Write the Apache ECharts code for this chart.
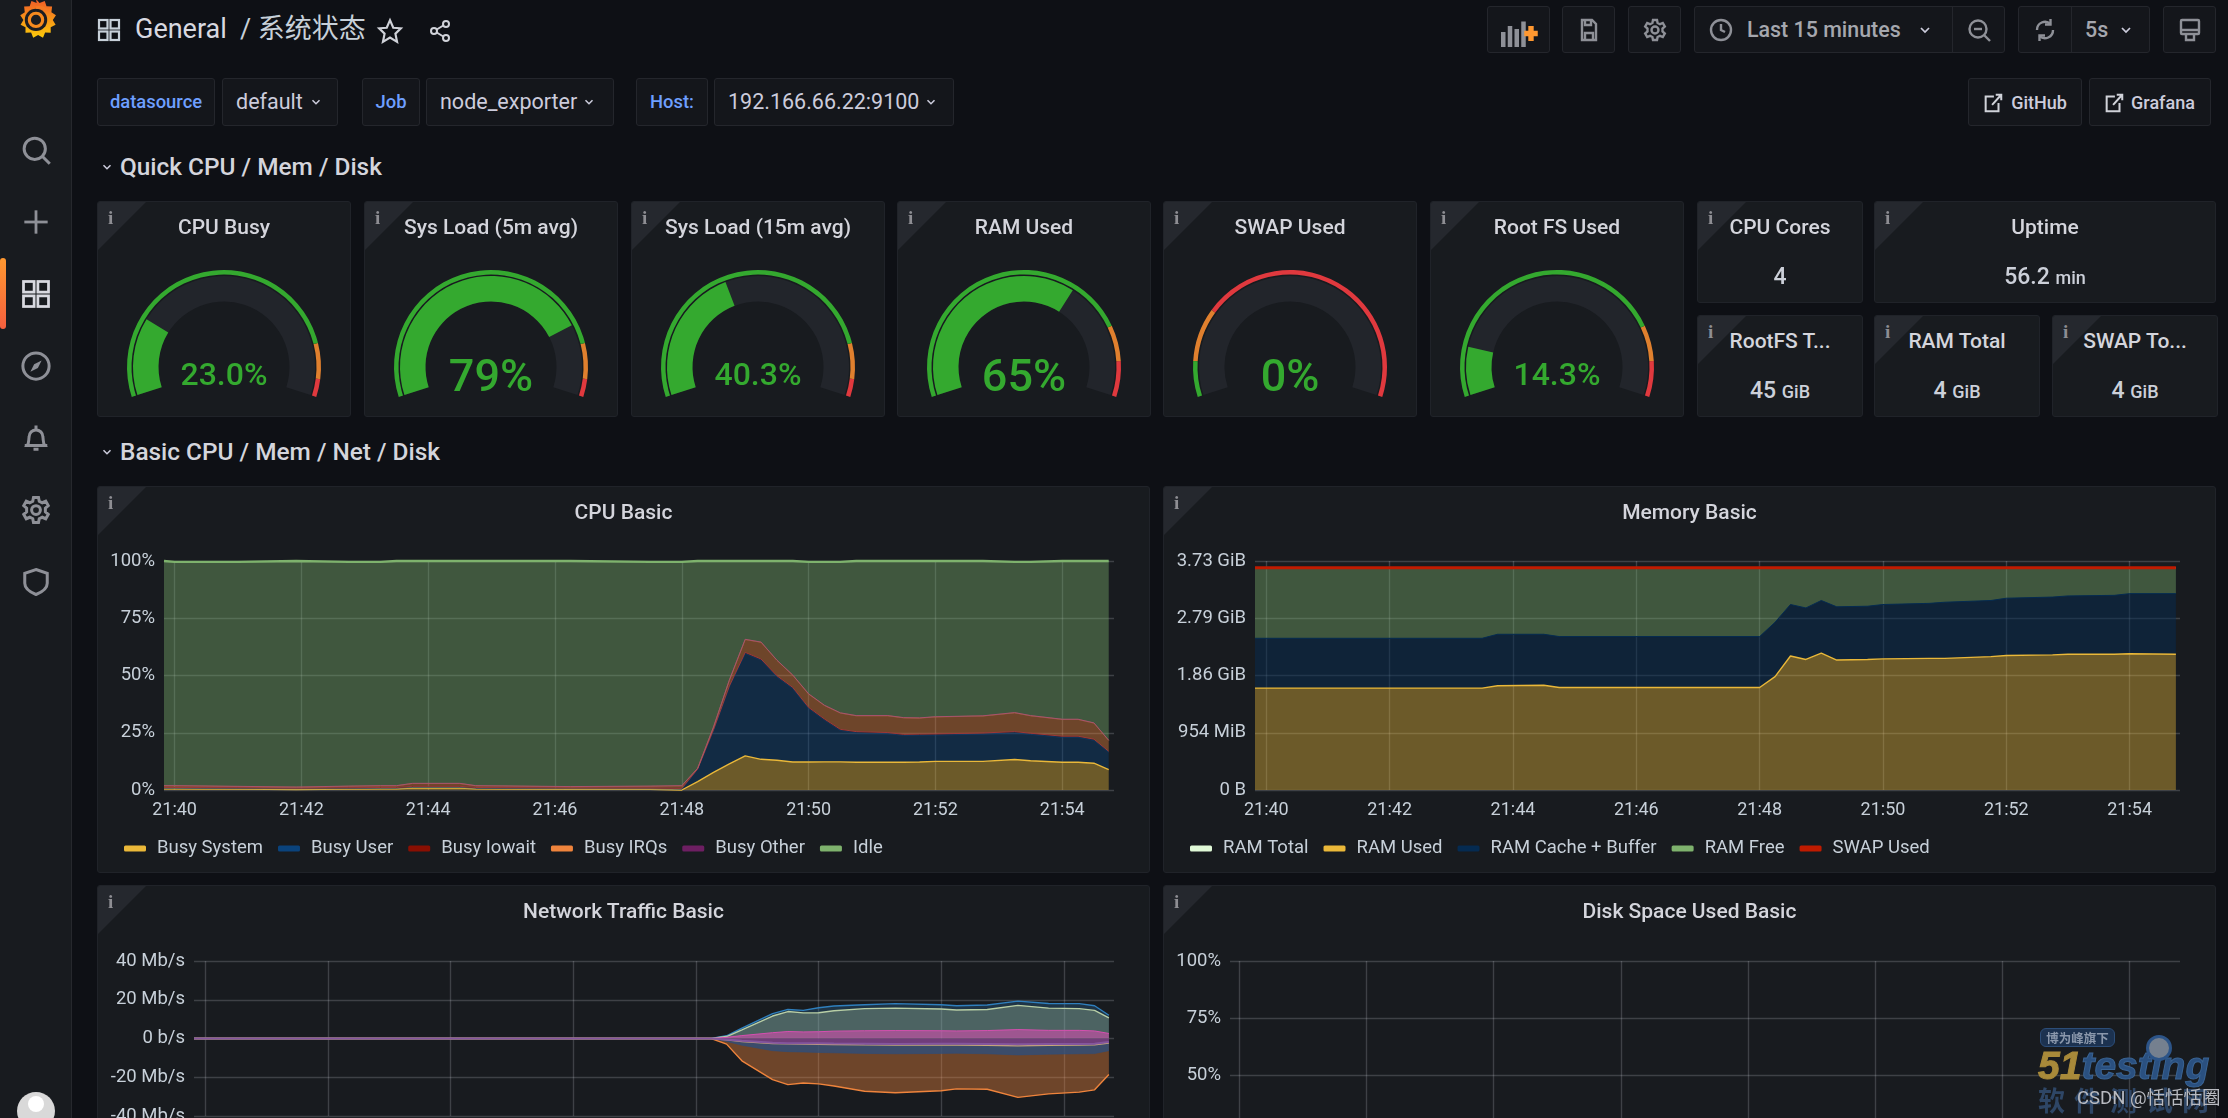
<!DOCTYPE html>
<html>
<head>
<meta charset="utf-8">
<title>General / 系统状态</title>
<script src="https://cdn.jsdelivr.net/npm/echarts@6/dist/echarts.min.js"></script>
<style>
html, body { margin: 0; padding: 0; width: 2228px; height: 1118px; overflow: hidden; background: #0e1015; font-family: Roboto, sans-serif; color: #ccccdc; }
.abs { position: absolute; }
.side { left: 0; top: 0; width: 72px; height: 1118px; background: #181b1f; border-right: 1px solid #26282d; box-sizing: border-box; }
.box { position: absolute; box-sizing: border-box; background: #14161b; border: 1px solid #24262c; border-radius: 3px; white-space: nowrap; }
.panel { position: absolute; box-sizing: border-box; background: #181b1f; border: 1px solid #202329; border-radius: 3px; overflow: hidden; }
.corner { position: absolute; left: 0; top: 0; width: 0; height: 0; border-top: 48px solid #25282e; border-right: 48px solid transparent; }
.info { position: absolute; left: 10px; top: 5px; font: bold 19px "Liberation Serif", serif; color: #8e8e93; }
.ptitle { position: absolute; left: 0; right: 0; top: 12px; text-align: center; font-size: 21px; font-weight: 500; line-height: 26px; color: #d4d5dc; white-space: nowrap; }
.stat { position: absolute; left: 0; right: 0; text-align: center; font-size: 23px; font-weight: 500; color: #ccd0d9; white-space: nowrap; }
.stat small { font-size: 18px; }
.chart { position: absolute; left: -1px; top: -1px; }
.section { position: absolute; left: 120px; font-size: 24.4px; font-weight: 500; color: #d4d5dc; line-height: 30px; white-space: nowrap; }
.var { font-size: 21.5px; line-height: 46px; text-align: center; color: #ccccdc; }
.val { text-align: left; padding-left: 13px; }
.lbl { font-size: 18.4px; font-weight: 500; color: #6e9fff; }
svg { position: absolute; overflow: visible; }
</style>
</head>
<body>

<div id="page"></div>

<script>
// cpu basic, percent per state, stacked
var cpuTimes = ['21:39:50','21:40:00','21:41:00','21:41:55','21:42:45','21:43:15','21:43:30','21:43:45','21:44:30','21:44:45','21:46:15','21:47:30','21:48:00','21:48:15','21:48:30','21:48:45','21:49:00','21:49:15','21:49:30','21:49:45','21:50:00','21:50:15','21:50:30','21:50:45','21:51:15','21:51:30','21:51:45','21:52:00','21:52:45','21:53:15','21:53:30','21:54:00','21:54:15','21:54:30','21:54:44'];
var busySystem = [.5,.5,.4,.2,.4,.5,.5,.9,.9,.5,.3,.3,0,3.7,7.7,11.4,14.9,13.4,13,12.2,12.2,12.3,12.3,12.1,12.1,12.1,12.2,12.5,12.5,13.3,12.8,12.1,12.1,11.7,8.9];
var busyUser = [.2,.2,.2,.3,.2,.2,.2,.2,.2,.2,.2,.2,.3,5.3,18.3,33.6,44.7,43.3,36.4,32.1,23.4,18.2,13.7,12.9,12.5,11.7,11.7,11.5,11.9,11.7,11.5,10.9,10.9,10,7.6];
var busyIowait = [.4,.4,.4,.3,.4,.4,.4,.5,.5,.4,.4,.4,.4,.2,.3,.4,.5,.5,.5,.5,.5,.5,.5,.5,.5,.5,.5,.5,.5,.5,.5,.5,.5,.5,.4];
var busyIrqs = [.7,.7,.5,.4,.6,.7,.7,1.2,1.2,.7,.5,.7,1.1,.2,1.1,2.5,5.6,7.3,6.7,5.3,5.8,5.9,7.1,6.9,7.3,7.2,7,7.4,7.4,8.2,7.6,7.3,7.3,7,4.7];
var busyOther = [.1,.1,.1,.1,.1,.1,.1,.1,.1,.1,.1,.1,.1,.1,.1,.1,.1,.1,.1,.1,.1,.1,.1,.1,.1,.1,.1,.1,.1,.1,.1,.1,.1,.1,.1];
var idle = [98.1,97.7,98,98.7,97.9,97.7,98.1,97.1,97.1,98.1,98.5,97.9,97.7,90.5,72.5,52,34.2,35.4,43.3,49.8,57.6,62.6,65.9,67.5,67.5,68.4,68.5,68,67.6,65.8,67.1,69.1,69.1,70.7,78.3];

// memory basic, in GB (1e9 bytes)
var memTimes = ['21:39:49','21:43:30','21:43:45','21:44:30','21:44:45','21:48:00','21:48:15','21:48:30','21:48:45','21:49:00','21:49:15','21:49:45','21:50:00','21:50:45','21:51:00','21:51:45','21:52:00','21:52:45','21:53:00','21:53:45','21:54:00','21:54:45'];
var ramTotal = [3.88,3.88,3.88,3.88,3.88,3.88,3.88,3.88,3.88,3.88,3.88,3.88,3.88,3.88,3.88,3.88,3.88,3.88,3.88,3.88,3.88,3.88];
var ramUsed = [1.78,1.78,1.82,1.83,1.79,1.79,1.98,2.34,2.28,2.39,2.27,2.28,2.29,2.3,2.3,2.33,2.35,2.36,2.37,2.37,2.38,2.37];
var ramCache = [.87,.87,.9,.89,.89,.89,.95,.9,.9,.92,.93,.93,.95,.96,.98,.98,1,1.01,1.02,1.03,1.05,1.06];
var ramFree = [1.23,1.23,1.16,1.16,1.2,1.2,.95,.64,.7,.57,.68,.67,.64,.62,.6,.57,.53,.51,.49,.48,.45,.45];
var swapUsed = [0,0,0,0,0,0,0,0,0,0,0,0,0,0,0,0,0,0,0,0,0,0];
var memTickLabels = ['0 B','954 MiB','1.86 GiB','2.79 GiB','3.73 GiB'];

// network traffic, Mb/s, overlaid not stacked
var netTimes = ['21:39:49','21:48:15','21:48:30','21:48:45','21:49:15','21:49:30','21:49:45','21:50:00','21:50:15','21:50:45','21:51:15','21:52:00','21:52:15','21:52:45','21:53:15','21:53:45','21:54:15','21:54:30','21:54:44'];
var recvEth = [0,0,1.4,5.4,12.8,15,14.5,15.9,16.8,17.4,18,17.4,16.9,17.3,19.3,18.1,18,16.9,12];
var recvLo = [0,0,1,4.5,11.6,13.9,13.2,13.3,14.3,15.4,15.7,15.2,14.7,15,17.1,15.7,15.4,14.5,10.6];
var recvDocker = [0,0,.6,1.5,3,3.6,3.4,3.5,3.8,4,4.1,4,3.9,4.1,4.6,4.2,4.2,3.9,2.6];
var transDocker = [0,0,-.5,-1.2,-2.2,-2.4,-2.4,-2.5,-2.6,-2.7,-2.8,-2.7,-2.7,-2.8,-3,-2.9,-2.9,-2.7,-1.8];
var transLo = [0,0,-.7,-1.6,-2.6,-2.8,-2.9,-3,-3.1,-3.3,-3.4,-3.4,-3.4,-3.5,-3.8,-3.5,-3.4,-3.3,-2.4];
var transVeth = [0,0,-1.5,-3.5,-6.3,-6.8,-7,-7.2,-7.4,-7.7,-7.9,-7.7,-7.6,-7.9,-8.5,-8.1,-7.9,-7.8,-6.3];
var transEth = [0,0,-2.9,-11.5,-21.2,-23.8,-23,-23.4,-24.5,-27.2,-28,-27,-26,-26.2,-30.4,-28.6,-27.7,-26.5,-18.6];

var timeTicks = ['21:40','21:42','21:44','21:46','21:48','21:50','21:52','21:54'];
var diskTimes = [];
var diskUsed = [];

// gauges: name, value, decimals text, thresholds
var gaugeNames = ['CPU Busy','Sys Load (5m avg)','Sys Load (15m avg)','RAM Used','SWAP Used','Root FS Used'];
var gaugeValues = [23.0,79,40.3,65,0,14.3];
var gaugeLabels = ['23.0%','79%','40.3%','65%','0%','14.3%'];
var gaugeOrange = [85,85,85,80,10,80];
var gaugeRed = [95,95,95,90,25,90];

var GREEN = '#34a92f', AXIS = '#c7d0d9';

function toMs(t) {
    var p = t.split(':');
    return (p[0] * 3600 + p[1] * 60 + (p[2] ? +p[2] : 0)) * 1000;
}
function pairs(times, vals) {
    return times.map(function (t, i) { return [toMs(t), vals[i]]; });
}
function fmtTime(v) {
    var s = Math.round(v / 1000), h = Math.floor(s / 3600), m = Math.floor(s / 60) % 60;
    return h + ':' + (m < 10 ? '0' : '') + m;
}
// the time axis also ticks at its own min and max, those get no label
function tickLabel(v) {
    return timeTicks.indexOf(fmtTime(v)) >= 0 && v % 60000 === 0 ? fmtTime(v) : '';
}

var page = document.getElementById('page');
function add(cls, css, html) {
    var d = document.createElement('div');
    d.className = cls;
    d.style.cssText = css;
    if (html) d.innerHTML = html;
    page.appendChild(d);
    return d;
}
function panel(x, y, w, h, title) {
    return add('panel', 'left:' + x + 'px;top:' + y + 'px;width:' + w + 'px;height:' + h + 'px;',
        '<div class="corner"></div><div class="info">i</div><div class="ptitle">' + title + '</div>');
}
function box(x, w, y, h, cls, html) {
    return add('box ' + (cls || ''), 'left:' + x + 'px;top:' + y + 'px;width:' + w + 'px;height:' + h + 'px;', html);
}

var ICON = 'fill="none" stroke="#8e9097" stroke-width="2.4"';
function svg(x, y, s, body) {
    var d = document.createElementNS('http://www.w3.org/2000/svg', 'svg');
    d.setAttribute('width', s); d.setAttribute('height', s);
    d.setAttribute('viewBox', '0 0 24 24');
    d.style.left = x + 'px'; d.style.top = y + 'px';
    d.innerHTML = body;
    page.appendChild(d);
}
var gridIcon = function (c) {
    return '<g fill="none" stroke="' + c + '" stroke-width="2.2"><rect x="2" y="2" width="8.5" height="8.5"/><rect x="13.5" y="2" width="8.5" height="8.5"/><rect x="2" y="13.5" width="8.5" height="8.5"/><rect x="13.5" y="13.5" width="8.5" height="8.5"/></g>';
};
var chev = '<polyline points="6,9 12,15 18,9" fill="none" stroke="#ccccdc" stroke-width="2.6"/>';
var clockIcon = '<g ' + ICON + '><circle cx="12" cy="12" r="10"/><polyline points="12,6 12,12 16,14"/></g>';
var extIcon = '<g fill="none" stroke="#d0d2d9" stroke-width="2.2"><path d="M13 5H4v16h14v-9"/><path d="M11 14L21 3M15 3h6v6"/></g>';

function buildChrome() {
    add('abs side', '');
    add('abs', 'left:0;top:258px;width:6px;height:71px;border-radius:3px;background:linear-gradient(#ff9830,#f55f3e);');

    // sidebar icons
    svg(15, -2, 42, '<defs><linearGradient id="lg" x1="0" y1="1" x2="0" y2="0"><stop offset="0" stop-color="#fbca0a"/><stop offset="1" stop-color="#f05a28"/></linearGradient></defs>' +
        '<path d="M12 0.5l2 2.4 3-1.2 1 3 3.2.2-.4 3.2 2.6 1.8-1.8 2.6 1.6 2.8-2.8 1.4 0 3.2-3.2-.2-1.2 3-2.8-1.6-2.8 1.6-1.2-3-3.2.2 0-3.2-2.8-1.4 1.6-2.8-1.8-2.6 2.6-1.8-.4-3.2 3.2-.2 1-3 3 1.2z" fill="url(#lg)"/>' +
        '<circle cx="12" cy="12.5" r="6.4" fill="#1b1d22"/><path d="M18.5 7a8 8 0 0 0-6.5-1.5" fill="none" stroke="#f47a25" stroke-width="1.6"/>' +
        '<circle cx="12" cy="12.5" r="3.8" fill="none" stroke="#f68a1f" stroke-width="1.8"/><circle cx="12" cy="12.5" r="1.6" fill="#1b1d22"/>');
    svg(21, 135, 30, '<g ' + ICON + '><circle cx="11" cy="11" r="8.5"/><line x1="17" y1="17" x2="23" y2="23"/></g>');
    svg(22, 208, 28, '<g ' + ICON + '><line x1="12" y1="2" x2="12" y2="22"/><line x1="2" y1="12" x2="22" y2="12"/></g>');
    svg(21, 279, 30, gridIcon('#d8d9e0'));
    svg(21, 351, 30, '<g ' + ICON + '><circle cx="12" cy="12" r="10.5"/></g><path d="M16.5 7.5L13.5 13.5 7.5 16.5 10.5 10.5z" fill="#8e9097"/>');
    svg(21, 423, 30, '<g ' + ICON + '><path d="M5 18c1.5-2 1-4 1.5-7a5.5 5.5 0 0 1 11 0c.5 3 0 5 1.5 7z"/><path d="M3 18h18M12 2v3M10 21h4"/></g>');
    svg(21, 495, 30, '<g ' + ICON + '><circle cx="12" cy="12" r="3.5"/><path d="M10 2h4l.6 3 2.4 1.2 2.8-1.2 2 3.5-2.3 2v3l2.3 2-2 3.5-2.8-1.2-2.4 1.2-.6 3h-4l-.6-3-2.4-1.2-2.8 1.2-2-3.5 2.3-2v-3l-2.3-2 2-3.5 2.8 1.2 2.4-1.2z"/></g>');
    svg(21, 567, 30, '<g ' + ICON + '><path d="M12 2l9 3v8c0 4-4 7-9 9-5-2-9-5-9-9V5z"/></g>');
    add('abs', 'left:17px;top:1092px;width:38px;height:38px;border-radius:50%;background:#d9d9d9;overflow:hidden;',
        '<div style="position:absolute;left:11px;top:4px;width:16px;height:16px;border-radius:50%;background:#fff;"></div>');

    // top bar
    svg(97, 18, 24, gridIcon('#c7d0d9'));
    add('abs', 'left:135px;top:13px;font-size:27px;line-height:32px;color:#d8d9e0;white-space:nowrap;', 'General');
    add('abs', 'left:240px;top:13px;font-size:27px;line-height:32px;color:#c7d0d9;white-space:nowrap;font-family:Roboto,\'Noto Sans CJK SC\',sans-serif;', '/ 系统状态');
    svg(377, 18, 26, '<polygon points="12,2 15,9 22,9.5 17,14.5 18.5,22 12,18 5.5,22 7,14.5 2,9.5 9,9" fill="none" stroke="#d0d2d9" stroke-width="2"/>');
    svg(428, 19, 24, '<g fill="none" stroke="#d0d2d9" stroke-width="2"><circle cx="18" cy="5" r="3"/><circle cx="6" cy="12" r="3"/><circle cx="18" cy="19" r="3"/><line x1="8.7" y1="10.5" x2="15.3" y2="6.5"/><line x1="8.7" y1="13.5" x2="15.3" y2="17.5"/></g>');

    box(1487, 63, 6, 47);
    svg(1501, 17, 36, '<g fill="#8e9097"><rect x="0" y="10" width="3" height="10"/><rect x="4.5" y="6" width="3" height="14"/><rect x="9" y="8" width="3" height="12"/><rect x="13.5" y="3" width="3" height="17"/></g><path d="M20 6v10M15.5 11h9" stroke="#ff9830" stroke-width="3.6"/>');
    box(1562, 53, 6, 47);
    svg(1577, 18, 24, '<g ' + ICON + '><path d="M5 2h10l4 4v16H5z"/><path d="M8 22v-7h8v7M8 2v5h6V2"/></g>');
    box(1628, 53, 6, 47);
    svg(1643, 18, 24, '<g ' + ICON + '><circle cx="12" cy="12" r="3.5"/><path d="M10 2h4l.6 3 2.4 1.2 2.8-1.2 2 3.5-2.3 2v3l2.3 2-2 3.5-2.8-1.2-2.4 1.2-.6 3h-4l-.6-3-2.4-1.2-2.8 1.2-2-3.5 2.3-2v-3l-2.3-2 2-3.5 2.8 1.2 2.4-1.2z"/></g>');
    box(1694, 311, 6, 47);
    add('abs', 'left:1952px;top:7px;width:1px;height:45px;background:#24262c;');
    svg(1709, 18, 24, clockIcon);
    add('abs', 'left:1747px;top:14px;font-size:21.4px;font-weight:500;line-height:32px;color:#a5a7ae;white-space:nowrap;', 'Last 15 minutes');
    svg(1917, 22, 16, chev);
    svg(1967, 18, 24, '<g ' + ICON + '><circle cx="11" cy="11" r="8.5"/><line x1="17" y1="17" x2="23" y2="23"/><line x1="7" y1="11" x2="15" y2="11"/></g>');
    box(2018, 132, 6, 47);
    add('abs', 'left:2071px;top:7px;width:1px;height:45px;background:#24262c;');
    svg(2033, 18, 24, '<g ' + ICON + '><path d="M20 12a8 8 0 0 1-13.5 6M4 12a8 8 0 0 1 13.5-6"/><path d="M17.5 1v5.5H12M6.5 23v-5.5H12"/></g>');
    add('abs', 'left:2085px;top:14px;font-size:21.4px;font-weight:500;line-height:32px;color:#a5a7ae;', '5s');
    svg(2118, 22, 16, chev);
    box(2163, 53, 6, 47);
    svg(2178, 18, 24, '<g ' + ICON + '><rect x="3" y="2" width="18" height="14" rx="1"/><path d="M3 12h18M8 16v6h8v-6"/></g>');

    // variable row
    var rowY = 78, rowH = 48;
    box(97, 118, rowY, rowH, 'var lbl', 'datasource');
    box(222, 116, rowY, rowH, 'var val', 'default');
    box(362, 58, rowY, rowH, 'var lbl', 'Job');
    box(426, 188, rowY, rowH, 'var val', 'node_exporter');
    box(636, 72, rowY, rowH, 'var lbl', 'Host:');
    box(714, 240, rowY, rowH, 'var val', '192.166.66.22:9100');
    svg(309, 95, 14, chev);
    svg(582, 95, 14, chev);
    svg(924, 95, 14, chev);
    box(1968, 114, rowY, rowH, 'var', '<span style="margin-left:28px;font-size:18px;font-weight:500;">GitHub</span>');
    box(2089, 122, rowY, rowH, 'var', '<span style="margin-left:26px;font-size:18px;font-weight:500;">Grafana</span>');
    svg(1982, 92, 22, extIcon);
    svg(2103, 92, 22, extIcon);

    svg(100, 160, 14, chev);
    add('section', 'top:152px;', 'Quick CPU / Mem / Disk');
    svg(100, 445, 14, chev);
    add('section', 'top:437px;', 'Basic CPU / Mem / Net / Disk');
}

function buildStats() {
    var stats = [
        [1697, 201, 166, 102, 'CPU Cores', '4'],
        [1874, 201, 342, 102, 'Uptime', '56.2 <small>min</small>'],
        [1697, 315, 166, 102, 'RootFS T...', '45 <small>GiB</small>'],
        [1874, 315, 166, 102, 'RAM Total', '4 <small>GiB</small>'],
        [2052, 315, 166, 102, 'SWAP To...', '4 <small>GiB</small>']
    ];
    stats.forEach(function (s) {
        var p = panel(s[0], s[1], s[2], s[3], s[4]);
        var v = document.createElement('div');
        v.className = 'stat';
        v.style.top = '61px';
        v.innerHTML = s[5];
        p.appendChild(v);
    });
}

function gaugeInit(el, i) {
    var chart = echarts.init(el, null, { width: 254, height: 216 });
    var o = gaugeOrange[i] / 100, r = gaugeRed[i] / 100;
    var big = gaugeLabels[i].length <= 3;
    chart.setOption({
        animation: false,
        series: [{
            type: 'gauge', startAngle: 198, endAngle: -18, min: 0, max: 100,
            center: [127, 166], radius: 97,
            axisLine: { lineStyle: { width: 4.5, color: [[o, GREEN], [r, '#e0802e'], [1, '#e0393e']] } },
            axisTick: { show: false }, splitLine: { show: false }, axisLabel: { show: false },
            pointer: { show: false }, title: { show: false }, detail: { show: false },
            data: [{ value: 0 }]
        }, {
            type: 'gauge', startAngle: 198, endAngle: -18, min: 0, max: 100,
            center: [127, 166], radius: 91,
            axisLine: { lineStyle: { width: 25.5, color: [[1, '#22252b']] } },
            progress: { show: true, width: 25.5, itemStyle: { color: GREEN } },
            axisTick: { show: false }, splitLine: { show: false }, axisLabel: { show: false },
            pointer: { show: false }, title: { show: false },
            detail: {
                valueAnimation: false, offsetCenter: [0, big ? 13 : 10],
                fontFamily: 'Roboto', fontWeight: 500, fontSize: big ? 45 : 32, color: GREEN,
                formatter: function () { return gaugeLabels[i]; }
            },
            data: [{ value: gaugeValues[i] }]
        }]
    });
}

function buildGauges() {
    var xs = [97, 364, 631, 897, 1163, 1430];
    gaugeNames.forEach(function (name, i) {
        var p = panel(xs[i], 201, 254, 216, name);
        var d = document.createElement('div');
        d.className = 'chart';
        d.style.cssText = 'width:254px;height:216px;';
        p.insertBefore(d, p.firstChild);
        gaugeInit(d, i);
    });
}

// shared option pieces for the four time panels
function xAxis(min, max) {
    return {
        type: 'time', min: toMs(min), max: toMs(max), splitNumber: 6,
        axisLine: { show: false },
        axisTick: { show: false },
        splitLine: { show: true, showMinLine: false, showMaxLine: false, lineStyle: { color: 'rgba(215,220,230,0.2)', width: 1.4 } },
        axisLabel: {
            color: AXIS, fontSize: 18, fontFamily: 'Roboto', margin: 11,
            formatter: tickLabel, hideOverlap: false, showMinLabel: false, showMaxLabel: false
        }
    };
}
function yAxis(min, max, interval, fmt) {
    return {
        type: 'value', min: min, max: max, interval: interval,
        axisLine: { show: false }, axisTick: { show: false },
        splitLine: { show: true, lineStyle: { color: 'rgba(215,220,230,0.2)', width: 1.4 } },
        axisLabel: { color: AXIS, fontSize: 18.5, fontFamily: 'Roboto', margin: 9, formatter: fmt, hideOverlap: false }
    };
}
function area(name, color, data, opts) {
    opts = opts || {};
    return {
        name: name, type: 'line', data: data, symbol: 'none', smooth: false, clip: false,
        stack: opts.stack, z: opts.z || 2,
        itemStyle: { color: color },
        lineStyle: { color: opts.line || color, width: opts.width === undefined ? 1.4 : opts.width },
        areaStyle: opts.fill === 0 ? undefined : { color: color, opacity: opts.fill === undefined ? 0.4 : opts.fill }
    };
}
function legend(names, left) {
    return {
        show: true, data: names, left: left, top: 348, icon: 'roundRect', itemWidth: 22, itemHeight: 6, itemGap: 15,
        selectedMode: false,
        textStyle: { color: AXIS, fontSize: 18.5, fontFamily: 'Roboto', padding: [0, 0, 0, 6] }
    };
}
function timeChart(x, y, w, h, title, option) {
    var p = panel(x, y, w, h, title);
    var d = document.createElement('div');
    d.className = 'chart';
    d.style.cssText = 'width:' + w + 'px;height:' + h + 'px;';
    p.insertBefore(d, p.firstChild);
    var chart = echarts.init(d, null, { width: w, height: h });
    option.animation = false;
    chart.setOption(option);
}

function cpuBasicInit() {
    var names = ['Busy System','Busy User','Busy Iowait','Busy IRQs','Busy Other','Idle'];
    timeChart(97, 486, 1053, 387, 'CPU Basic', {
        grid: { left: 67, right: 36, top: 75, bottom: 83 },
        legend: legend(names, 22),
        xAxis: xAxis('21:39:50', '21:54:49'),
        yAxis: yAxis(0, 100, 25, '{value}%'),
        series: [
            area(names[0], '#EAB839', pairs(cpuTimes, busySystem), { stack: 'cpu' }),
            area(names[1], '#0A437C', pairs(cpuTimes, busyUser), { stack: 'cpu', width: 0.6 }),
            area(names[2], '#890F02', pairs(cpuTimes, busyIowait), { stack: 'cpu', line: '#9c3a3a', width: 1, fill: 0.2 }),
            area(names[3], '#EF843C', pairs(cpuTimes, busyIrqs), { stack: 'cpu', width: 0.4 }),
            area(names[4], '#6D1F62', pairs(cpuTimes, busyOther), { stack: 'cpu', line: '#a8546e', width: 1 }),
            area(names[5], '#7EB26D', pairs(cpuTimes, idle), { stack: 'cpu', width: 2.4 })
        ]
    });
}

function memoryBasicInit() {
    var names = ['RAM Total','RAM Used','RAM Cache + Buffer','RAM Free','SWAP Used'];
    timeChart(1163, 486, 1053, 387, 'Memory Basic', {
        grid: { left: 92, right: 36, top: 75, bottom: 83 },
        legend: legend(names, 22),
        xAxis: xAxis('21:39:49', '21:54:49'),
        yAxis: yAxis(0, 4, 1, function (v) { return memTickLabels[v]; }),
        series: [
            area(names[0], '#E0F9D7', pairs(memTimes, ramTotal), { fill: 0, width: 1 }),
            area(names[1], '#EAB839', pairs(memTimes, ramUsed), { stack: 'mem' }),
            area(names[2], '#052B51', pairs(memTimes, ramCache), { stack: 'mem', width: 1, fill: 0.5 }),
            area(names[3], '#7EB26D', pairs(memTimes, ramFree), { stack: 'mem', width: 0 }),
            area(names[4], '#BF1B00', pairs(memTimes, swapUsed), { stack: 'mem', width: 3, fill: 0, z: 4 })
        ]
    });
}

function networkBasicInit() {
    timeChart(97, 885, 1053, 315, 'Network Traffic Basic', {
        grid: { left: 97, right: 36, top: 76, bottom: 84 },
        xAxis: xAxis('21:39:49', '21:54:49'),
        yAxis: yAxis(-40, 40, 20, function (v) { return v === 0 ? '0 b/s' : v + ' Mb/s'; }),
        series: [
            area('recv ens33', '#2f7fbd', pairs(netTimes, recvEth), { fill: 0.25 }),
            area('recv lo', '#b9cfa6', pairs(netTimes, recvLo), { fill: 0.3 }),
            area('recv docker0', '#d64fb0', pairs(netTimes, recvDocker), { fill: 0.6, width: 1 }),
            area('trans ens33', '#ef843c', pairs(netTimes, transEth), { fill: 0.4 }),
            area('trans veth', '#2b4f80', pairs(netTimes, transVeth), { fill: 0.75, width: 0.5 }),
            area('trans lo', '#c9a67a', pairs(netTimes, transLo), { fill: 0.1 }),
            area('trans docker0', '#8a2f86', pairs(netTimes, transDocker), { fill: 0.6, line: '#84569e', width: 2, z: 4 })
        ]
    });
}

function diskSpaceInit() {
    timeChart(1163, 885, 1053, 340, 'Disk Space Used Basic', {
        grid: { left: 67, right: 36, top: 76, bottom: 36 },
        xAxis: xAxis('21:39:51', '21:54:48'),
        yAxis: yAxis(0, 100, 25, '{value}%'),
        series: [area('/', '#EAB839', pairs(diskTimes, diskUsed), {})]
    });
}

function buildWatermark() {
    add('abs', 'left:2040px;top:1028px;width:75px;height:19px;box-sizing:border-box;border:1px solid #2c4d78;border-radius:6px;background:#1c3250;color:#8a97ab;font:bold 12.5px/17px \'Noto Sans CJK SC\';text-align:center;white-space:nowrap;', '博为峰旗下');
    add('abs', 'left:2038px;top:1043px;font:italic 900 39px/46px \'Liberation Sans\';color:#2a5080;white-space:nowrap;-webkit-text-stroke:1px #3a6494;', '<span style="color:#a88a3a;-webkit-text-stroke:1px #a88a3a;">51</span>testing');
    add('abs', 'left:2146px;top:1035px;width:26px;height:26px;border-radius:50%;background:#75808f;border:3px solid #2c5488;box-sizing:border-box;', '');
    add('abs', 'left:2038px;top:1084px;font:bold 27px/32px \'Noto Sans CJK SC\';color:#2e4666;white-space:nowrap;letter-spacing:9px;', '软件测试网');
    add('abs', 'left:2077px;top:1087px;font:18.5px/22px Roboto,\'Noto Sans CJK SC\';color:#b8bac0;white-space:nowrap;', 'CSDN @恬恬恬圈');
}

buildChrome();
buildGauges();
buildStats();
cpuBasicInit();
memoryBasicInit();
networkBasicInit();
diskSpaceInit();
buildWatermark();
</script>
</body>
</html>
